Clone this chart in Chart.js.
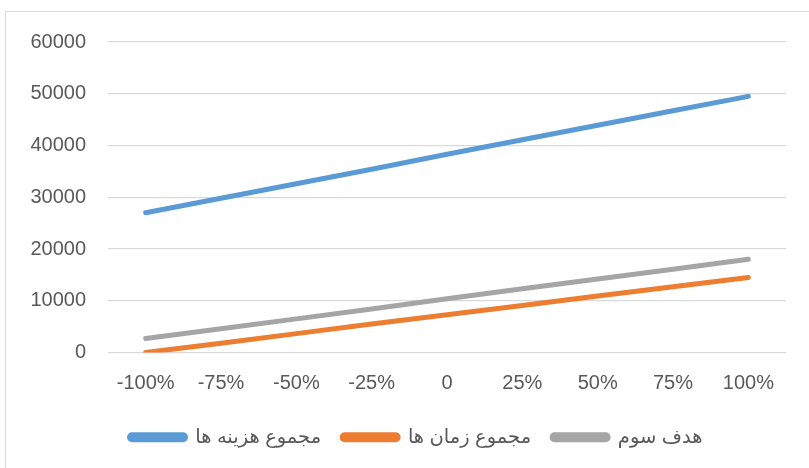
<!DOCTYPE html>
<html>
<head>
<meta charset="utf-8">
<script src="https://cdn.jsdelivr.net/npm/chart.js@4/dist/chart.umd.min.js"></script>
<style>
    html, body {
        margin: 0;
        padding: 0;
        background: #ffffff;
    }
    .frame {
        position: absolute;
        left: 5px;
        top: 11px;
        width: 900px;
        height: 600px;
        border: 1px solid #d9d9d9;
        box-sizing: border-box;
    }
    .wrap {
        position: absolute;
        left: 0;
        top: 0;
        width: 809px;
        height: 468px;
    }
</style>
</head>
<body>
<div class="frame"></div>
<div class="wrap"><canvas id="lineChart"></canvas></div>
<script>
const categories = ["-100%", "-75%", "-50%", "-25%", "0", "25%", "50%", "75%", "100%"];
const costTotal = [27000, 29800, 32600, 35400, 38300, 41100, 43900, 46700, 49500];
const timeTotal = [0, 1800, 3650, 5500, 7300, 9100, 10900, 12700, 14500];
const thirdGoal = [2700, 4600, 6500, 8400, 10400, 12300, 14200, 16100, 18000];
const seriesNames = ["مجموع هزینه ها", "مجموع زمان ها", "هدف سوم"];
const seriesColors = ["#5b9bd5", "#ed7d31", "#a5a5a5"];

const fontFamily = "'Liberation Sans', 'DejaVu Sans', sans-serif";
const textColor = "#595959";

Chart.defaults.font.family = fontFamily;
Chart.defaults.color = textColor;
Chart.defaults.animation = false;

function lineDataset(label, values, color) {
    return {
        label: label,
        data: values,
        borderColor: color,
        backgroundColor: color,
        borderWidth: 5,
        borderCapStyle: "round",
        pointRadius: 0,
        tension: 0
    };
}

// center the legend under the plot area instead of the whole canvas
const legendShift = {
    id: "legendShift",
    afterLayout(chart) {
        if (chart.legend) {
            chart.legend.left += 23;
            chart.legend.right += 23;
        }
    }
};

new Chart(document.getElementById("lineChart"), {
    type: "line",
    data: {
        labels: categories,
        datasets: [
            lineDataset(seriesNames[0], costTotal, seriesColors[0]),
            lineDataset(seriesNames[1], timeTotal, seriesColors[1]),
            lineDataset(seriesNames[2], thirdGoal, seriesColors[2])
        ]
    },
    plugins: [legendShift],
    options: {
        responsive: true,
        maintainAspectRatio: false,
        layout: {
            padding: { left: 0, right: 23, top: 42, bottom: 11 }
        },
        plugins: {
            legend: {
                position: "bottom",
                labels: {
                    boxWidth: 56,
                    boxHeight: 5,
                    useBorderRadius: true,
                    borderRadius: 2.5,
                    padding: 21,
                    color: textColor,
                    font: { size: 19.5 }
                }
            },
            tooltip: { enabled: false }
        },
        scales: {
            x: {
                offset: true,
                grid: { display: false },
                border: { display: false },
                ticks: {
                    color: textColor,
                    padding: 11,
                    font: { size: 20 }
                }
            },
            y: {
                min: 0,
                max: 60000,
                afterFit: function(scale) {
                    scale.width = 108;
                },
                grid: {
                    color: "#d9d9d9",
                    lineWidth: 1.3,
                    drawTicks: false
                },
                border: { display: false },
                ticks: {
                    stepSize: 10000,
                    color: textColor,
                    padding: 22,
                    font: { size: 20 },
                    callback: function(value) {
                        return String(value);
                    }
                }
            }
        }
    }
});
</script>
</body>
</html>
